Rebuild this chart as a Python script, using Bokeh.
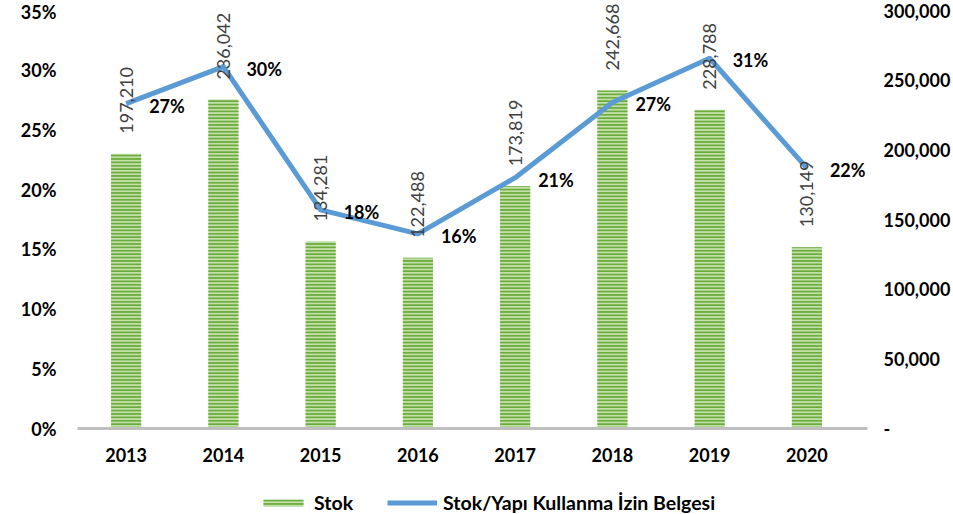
from bokeh.plotting import figure
from bokeh.models import (Range1d, LinearAxis, FixedTicker, NumeralTickFormatter,
                          ColumnDataSource, Legend, LegendItem, LabelSet)
from bokeh.layouts import column
from bokeh.core.properties import value
from bokeh.embed import file_html
from bokeh.resources import INLINE
import math

years = ["2013", "2014", "2015", "2016", "2017", "2018", "2019", "2020"]
stok = [197210, 236042, 134281, 122488, 173819, 242668, 228788, 130149]
ratio = [0.272, 0.303, 0.183, 0.163, 0.210, 0.273, 0.310, 0.218]
ratio_labels = ["27%", "30%", "18%", "16%", "21%", "27%", "31%", "22%"]
stok_labels = ["197,210", "236,042", "134,281", "122,488", "173,819", "242,668", "228,788", "130,149"]
pct_ticks = [0, 0.05, 0.10, 0.15, 0.20, 0.25, 0.30, 0.35]
stok_ticks = [0, 50000, 100000, 150000, 200000, 250000, 300000]

FONT = "Lato"
BAR_STYLE = dict(fill_color="#c2e0a8", line_color=None, hatch_pattern="horizontal_line",
                 hatch_color="#6aab3c", hatch_scale=3.4, hatch_weight=1.9)
LINE_STYLE = dict(line_color="#5b9bd5", line_width=5)

idx = list(range(len(years)))
src = ColumnDataSource(dict(x=idx, stok=stok, ratio=ratio, rl=ratio_labels, sl=stok_labels))

# layout (pixels): frame from x=77 to 870, y=2 to 428; axis max at y=10
W, H = 953, 470
F_LEFT, F_RIGHT, F_TOP, F_BOTTOM, AX_TOP = 77, 870, 2, 428, 10
cat_px = (858 - F_LEFT) / len(years)
x_end = -0.5 + (F_RIGHT - F_LEFT) / cat_px
stretch = (F_BOTTOM - F_TOP) / (F_BOTTOM - AX_TOP)

p = figure(width=W, height=H, x_range=Range1d(-0.5, x_end),
           y_range=Range1d(0, pct_ticks[-1] * stretch), output_backend="svg",
           toolbar_location=None, min_border_left=F_LEFT, min_border_right=W - F_RIGHT,
           min_border_top=F_TOP, min_border_bottom=H - F_BOTTOM)
p.extra_y_ranges = {"r": Range1d(0, stok_ticks[-1] * stretch)}
p.outline_line_color = None
p.grid.grid_line_color = None

p.vbar(x="x", top="stok", width=0.31, source=src, y_range_name="r", **BAR_STYLE)
p.line(x="x", y="ratio", source=src, line_join="round", **LINE_STYLE)

p.add_layout(LabelSet(x="x", y="stok", text="sl", source=src, y_range_name="r",
                      angle=math.pi/2, text_align="left", text_baseline="middle",
                      y_offset=20, text_font=value(FONT), text_font_size="18px",
                      text_color="#404040"))

p.add_layout(LabelSet(x="x", y="ratio", text="rl", source=src, x_offset=23, y_offset=-2,
                      text_align="left", text_baseline="middle",
                      text_font=value(FONT), text_font_size="18px", text_font_style="bold",
                      text_color="#000000"))

def style_axis(ax, standoff):
    ax.axis_line_color = None
    ax.major_tick_line_color = None
    ax.minor_tick_line_color = None
    ax.major_label_standoff = standoff
    ax.major_label_text_font = FONT
    ax.major_label_text_font_size = "18px"
    ax.major_label_text_font_style = "bold"
    ax.major_label_text_color = "#000000"

la = p.yaxis[0]
la.ticker = FixedTicker(ticks=pct_ticks)
la.formatter = NumeralTickFormatter(format="0%")
style_axis(la, 15)

ra = LinearAxis(y_range_name="r")
ra.ticker = FixedTicker(ticks=stok_ticks)
ra.formatter = NumeralTickFormatter(format="0,0")
ra.major_label_overrides = {0: "-"}
style_axis(ra, 10)
p.add_layout(ra, "right")

xa = p.xaxis[0]
xa.ticker = FixedTicker(ticks=idx)
xa.major_label_overrides = {i: y for i, y in zip(idx, years)}
style_axis(xa, 13)
xa.axis_line_color = "#bfbfbf"
xa.axis_line_width = 3

# legend figure
lf = figure(width=W, height=44, output_backend="svg", toolbar_location=None,
            x_range=Range1d(0, 1), y_range=Range1d(0, 1), min_border=0)
lf.axis.visible = False
lf.grid.visible = False
lf.outline_line_color = None
lb = lf.vbar(x=[0.5], top=[-5], bottom=[-6], width=0.1, **BAR_STYLE)
ll = lf.line(x=[0.4, 0.6], y=[-5, -5], **LINE_STYLE)
legend = Legend(items=[LegendItem(label="Stok", renderers=[lb]),
                       LegendItem(label="Stok/Yapı Kullanma İzin Belgesi", renderers=[ll])],
                orientation="horizontal", location=(181, 0),
                label_text_font=FONT, label_text_font_size="19.5px",
                label_text_font_style="bold", label_text_color="#000000",
                glyph_width=50, glyph_height=9, label_standoff=6, spacing=34,
                border_line_color=None, background_fill_alpha=0, margin=0, padding=2)
lf.add_layout(legend, "center")

open("out.html", "w").write(file_html(column(p, lf, spacing=0), INLINE))
